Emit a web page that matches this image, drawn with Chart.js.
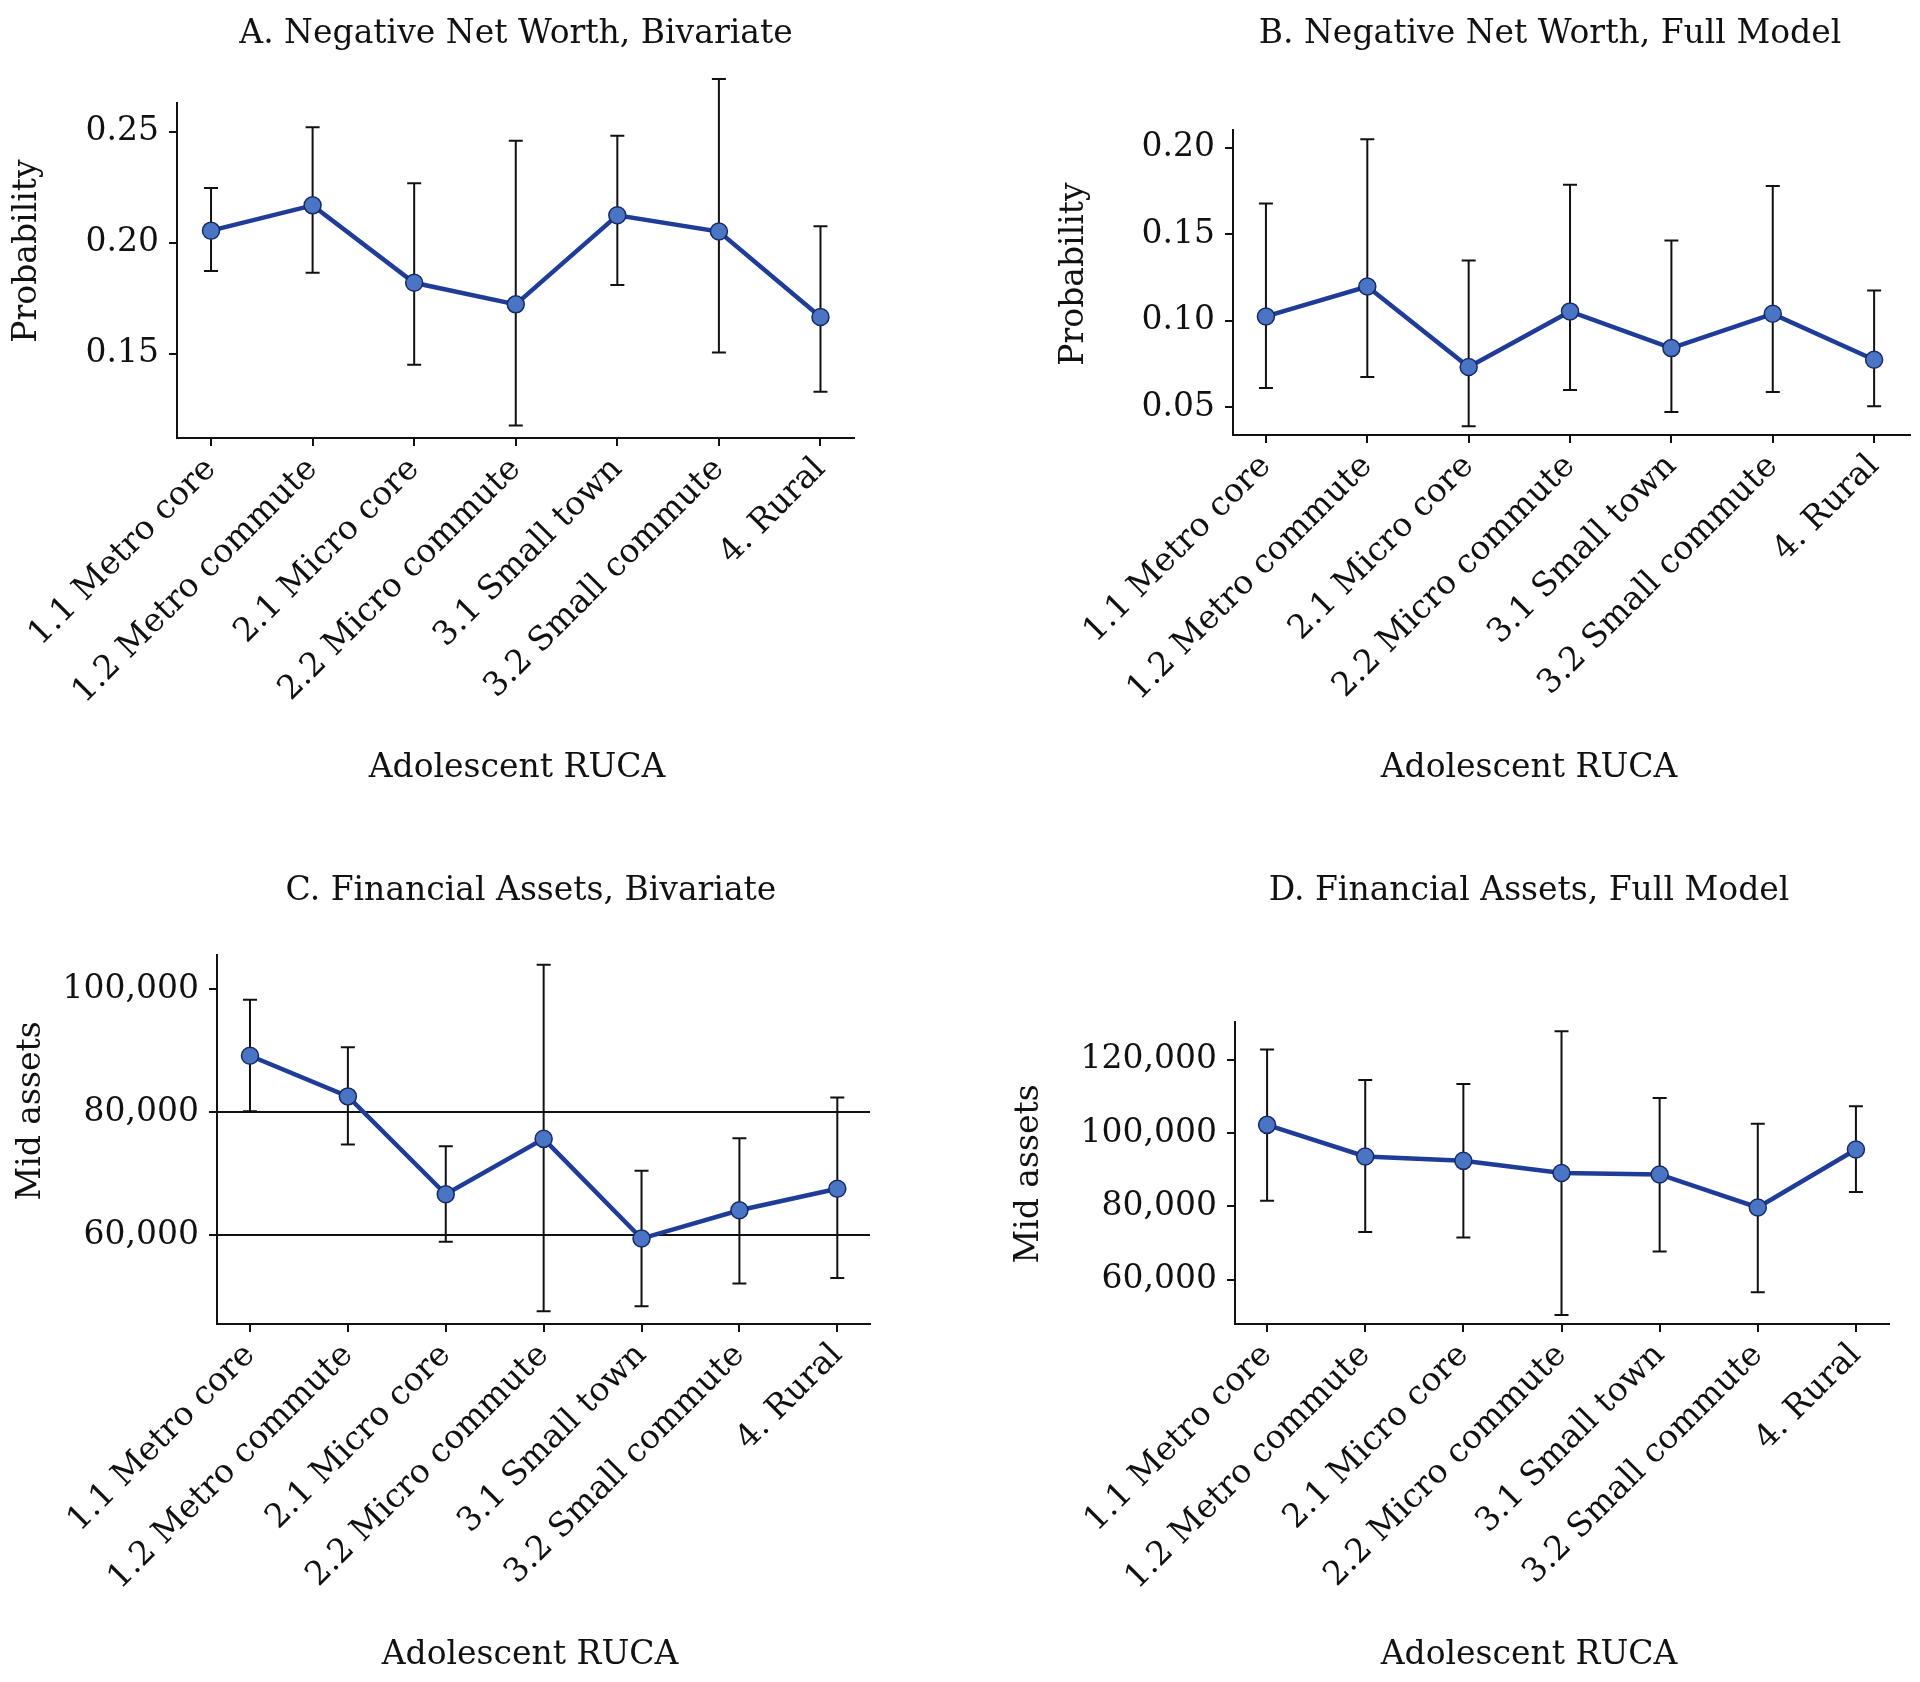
<!DOCTYPE html>
<html>
<head>
<meta charset="utf-8">
<title>Adolescent RUCA</title>
<script src="https://cdn.jsdelivr.net/npm/chart.js@4.4.1/dist/chart.umd.min.js"></script>
<style>
    html, body { margin: 0; padding: 0; background: #fff; }
    body { width: 1920px; height: 1682px; position: relative; overflow: hidden; }
    canvas { position: absolute; }
</style>
</head>
<body>
<canvas id="chart-a" width="960" height="841" style="left:0;top:0"></canvas>
<canvas id="chart-b" width="960" height="841" style="left:960px;top:0"></canvas>
<canvas id="chart-c" width="960" height="841" style="left:0;top:841px"></canvas>
<canvas id="chart-d" width="960" height="841" style="left:960px;top:841px"></canvas>
<script>
// 범주 (x축)
const categories = ['1.1 Metro core', '1.2 Metro commute', '2.1 Micro core', '2.2 Micro commute',
    '3.1 Small town', '3.2 Small commute', '4. Rural'];

// A. Negative Net Worth, Bivariate
const negBivar = [0.2055, 0.2169, 0.1820, 0.1723, 0.2124, 0.2051, 0.1666];
const negBivarLo = [0.1873, 0.1865, 0.1451, 0.1177, 0.1810, 0.1506, 0.1329];
const negBivarHi = [0.2247, 0.2521, 0.2269, 0.2460, 0.2482, 0.2738, 0.2075];

// B. Negative Net Worth, Full Model
const negFull = [0.1025, 0.1198, 0.0733, 0.1054, 0.0842, 0.1040, 0.0775];
const negFullLo = [0.0612, 0.0675, 0.0390, 0.0600, 0.0473, 0.0588, 0.0506];
const negFullHi = [0.1677, 0.2048, 0.1348, 0.1785, 0.1463, 0.1779, 0.1175];

// C. Financial Assets, Bivariate
const assetsBivar = [89200, 82600, 66700, 75700, 59500, 64100, 67600];
const assetsBivarLo = [80200, 74800, 59000, 47700, 48500, 52200, 53100];
const assetsBivarHi = [98300, 90600, 74500, 104000, 70500, 75800, 82400];

// D. Financial Assets, Full Model
const assetsFull = [102200, 93600, 92400, 89100, 88700, 79700, 95500];
const assetsFullLo = [81500, 73000, 71500, 50400, 67700, 56600, 83900];
const assetsFullHi = [122700, 114400, 113300, 127700, 109500, 102500, 107300];

// 눈금
const probTicksA = [0.15, 0.20, 0.25];
const probTicksB = [0.05, 0.10, 0.15, 0.20];
const assetTicksC = [60000, 80000, 100000];
const assetTicksD = [60000, 80000, 100000, 120000];
const refLinesC = [60000, 80000];

const FONT = 'DejaVu Serif';
const FS = 33;
const LH = FS * 1.2;
const INK = '#111111';

// 에러바 플러그인 (스케일 좌표로 그림)
const errorBars = {
    id: 'errorBars',
    beforeDatasetsDraw(chart, args, opts) {
        const ctx = chart.ctx;
        const xs = chart.scales.x, ys = chart.scales.y;
        ctx.save();
        ctx.strokeStyle = INK;
        ctx.lineWidth = 2;
        opts.lo.forEach((lo, i) => {
            const x = xs.getPixelForValue(i);
            const y1 = ys.getPixelForValue(lo);
            const y2 = ys.getPixelForValue(opts.hi[i]);
            ctx.beginPath();
            ctx.moveTo(x, y1); ctx.lineTo(x, y2);
            ctx.moveTo(x - 7, y1); ctx.lineTo(x + 7, y1);
            ctx.moveTo(x - 7, y2); ctx.lineTo(x + 7, y2);
            ctx.stroke();
        });
        ctx.restore();
    }
};

// 제목 가로 위치 맞추기
const titlePlace = {
    id: 'titlePlace',
    afterLayout(chart, args, opts) {
        const t = chart.titleBlock;
        if (!t) return;
        const w = t.right - t.left;
        t.left = opts.x - w / 2;
        t.right = opts.x + w / 2;
    }
};

// 축 제목을 원하는 중심으로 옮김
function shiftTitle(scale, cx, cy) {
    if (scale._shifted) return;
    scale._shifted = true;
    const orig = scale.drawTitle;
    scale.drawTitle = function () {
        let curX, curY;
        if (this.isHorizontal()) {
            curX = (this.left + this.right) / 2;
            curY = this.bottom - LH / 2;
        } else {
            curX = this.left + LH / 2;
            curY = (this.top + this.bottom) / 2;
        }
        this.ctx.save();
        this.ctx.translate(cx - curX, cy - curY);
        orig.call(this);
        this.ctx.restore();
    };
}

function makePanel(id, p) {
    const c = p.canvas;
    const plotRightPad = c.l + c.w - p.plot.r;
    const tTop = p.title[1] - c.t - LH / 2;
    const tBottom = p.plot.t - c.t - LH - tTop;

    return new Chart(document.getElementById(id), {
        type: 'line',
        data: {
            datasets: [{
                data: p.values.map((v, i) => ({ x: i, y: v })),
                borderColor: '#1f3c98',
                borderWidth: 4.5,
                pointRadius: 8.5,
                pointBackgroundColor: '#4a74c4',
                pointBorderColor: '#172a66',
                pointBorderWidth: 1.5,
                tension: 0,
                clip: false
            }]
        },
        plugins: [errorBars, titlePlace],
        options: {
            responsive: false,
            animation: false,
            layout: { padding: { left: 0, top: 0, right: plotRightPad, bottom: 0 } },
            plugins: {
                legend: { display: false },
                tooltip: { enabled: false },
                title: {
                    display: true,
                    text: p.titleText,
                    color: INK,
                    font: { family: FONT, size: FS, weight: 'normal' },
                    padding: { top: tTop, bottom: tBottom }
                },
                titlePlace: { x: p.title[0] - c.l },
                errorBars: { lo: p.lo, hi: p.hi }
            },
            scales: {
                x: {
                    type: 'linear',
                    min: p.xMin,
                    max: p.xMax,
                    afterBuildTicks: (scale) => {
                        scale.ticks = categories.map((cat, i) => ({ value: i }));
                    },
                    afterFit: (scale) => {
                        scale.height = c.t + c.h - p.plot.b;
                        scale.paddingLeft = 0;
                        scale.paddingRight = 0;
                        shiftTitle(scale, p.xTitle[0] - c.l, p.xTitle[1] - c.t);
                    },
                    ticks: {
                        autoSkip: false,
                        minRotation: 45,
                        maxRotation: 45,
                        padding: 4,
                        color: INK,
                        font: { family: FONT, size: FS },
                        callback: (v) => categories[v]
                    },
                    grid: { drawOnChartArea: false, tickLength: 8, tickColor: INK, lineWidth: 2 },
                    border: { display: true, color: INK, width: 2 },
                    title: {
                        display: true,
                        text: 'Adolescent RUCA',
                        color: INK,
                        padding: 0,
                        font: { family: FONT, size: FS }
                    }
                },
                y: {
                    min: p.yMin,
                    max: p.yMax,
                    afterBuildTicks: (scale) => {
                        scale.ticks = p.yTicks.map(v => ({ value: v }));
                    },
                    afterFit: (scale) => {
                        scale.width = p.plot.l - c.l;
                        scale.paddingTop = 0;
                        scale.paddingBottom = 0;
                        shiftTitle(scale, p.yTitle[0] - c.l, p.yTitle[1] - c.t);
                    },
                    ticks: {
                        padding: 10,
                        color: INK,
                        font: { family: FONT, size: FS },
                        callback: p.fmt
                    },
                    grid: {
                        drawOnChartArea: !!p.refLines,
                        color: (ctx) => (p.refLines && ctx.tick && p.refLines.includes(ctx.tick.value)) ? INK : 'rgba(0,0,0,0)',
                        tickLength: 8,
                        tickColor: INK,
                        lineWidth: 2
                    },
                    border: { display: true, color: INK, width: 2 },
                    title: {
                        display: true,
                        text: p.yLabel,
                        color: INK,
                        padding: 0,
                        font: { family: FONT, size: FS }
                    }
                }
            }
        }
    });
}

const fmtProb = (v) => v.toFixed(2);
const fmtMoney = (v) => v.toLocaleString('en-US');

makePanel('chart-a', {
    canvas: { l: 0, t: 0, w: 960, h: 841 },
    plot: { l: 177, t: 103, r: 854, b: 438 },
    title: [516, 34], xTitle: [517, 768], yTitle: [27, 251],
    titleText: 'A. Negative Net Worth, Bivariate', yLabel: 'Probability',
    values: negBivar, lo: negBivarLo, hi: negBivarHi,
    xMin: -0.335, xMax: 6.33, yMin: 0.1121, yMax: 0.263,
    yTicks: probTicksA, fmt: fmtProb
});

makePanel('chart-b', {
    canvas: { l: 960, t: 0, w: 960, h: 841 },
    plot: { l: 1233, t: 130, r: 1912, b: 435 },
    title: [1550, 34], xTitle: [1529, 768], yTitle: [1074, 274],
    titleText: 'B. Negative Net Worth, Full Model', yLabel: 'Probability',
    values: negFull, lo: negFullLo, hi: negFullHi,
    xMin: -0.325, xMax: 6.354, yMin: 0.034, yMax: 0.2102,
    yTicks: probTicksB, fmt: fmtProb
});

makePanel('chart-c', {
    canvas: { l: 0, t: 841, w: 960, h: 841 },
    plot: { l: 217, t: 955, r: 870, b: 1324 },
    title: [531, 891], xTitle: [530, 1655], yTitle: [31, 1111],
    titleText: 'C. Financial Assets, Bivariate', yLabel: 'Mid assets',
    values: assetsBivar, lo: assetsBivarLo, hi: assetsBivarHi,
    xMin: -0.337, xMax: 6.334, yMin: 45617, yMax: 105570,
    yTicks: assetTicksC, fmt: fmtMoney, refLines: refLinesC
});

makePanel('chart-d', {
    canvas: { l: 960, t: 841, w: 960, h: 841 },
    plot: { l: 1235, t: 1022, r: 1889, b: 1324 },
    title: [1529, 891], xTitle: [1529, 1655], yTitle: [1029, 1174],
    titleText: 'D. Financial Assets, Full Model', yLabel: 'Mid assets',
    values: assetsFull, lo: assetsFullLo, hi: assetsFullHi,
    xMin: -0.327, xMax: 6.337, yMin: 47957, yMax: 130222,
    yTicks: assetTicksD, fmt: fmtMoney
});
</script>
</body>
</html>
